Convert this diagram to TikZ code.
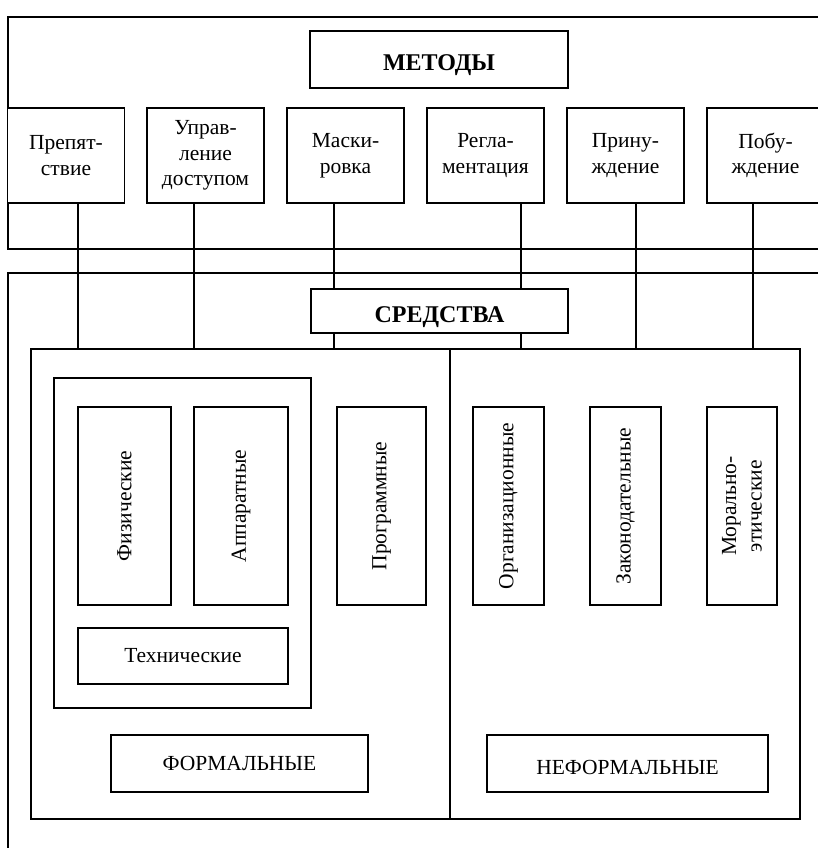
\documentclass[tikz,border=0pt]{standalone}
\usepackage{fontspec}
\setmainfont{Liberation Serif}

\begin{document}
\begin{tikzpicture}[x=1pt, y=-1pt,
    box/.style={draw, line width=1.6pt, fill=white, inner sep=0pt, align=center,
        font=\fontsize{21.5}{25.5}\selectfont},
    method/.style={box, minimum width=117, minimum height=95},
    title/.style={box, text height=23pt, text depth=0pt, font=\fontsize{24}{27}\selectfont\bfseries},
    upright/.style={box, rotate=90, minimum width=198},
    frame/.style={draw, line width=1.6pt},
    link/.style={draw, line width=1.3pt}]
    \useasboundingbox (0,0) rectangle (817,848);

    % Outer frames
    \draw[frame] (830,17) -- (8,17) -- (8,249) -- (830,249);
    \draw[frame] (830,273) -- (8,273) -- (8,860);

    % Inner frames
    \draw[frame] (31,349) rectangle (800,819);
    \draw[frame] (450,349) -- (450,819);
    \draw[frame] (54,378) rectangle (311,708);

    % Methods
    \node[title, minimum width=258, minimum height=57] (metody) at (439,59.5) {МЕТОДЫ};
    \node[method] (prep) at (66,155.5) {Препят-\\ствие};
    \node[method] (upr)  at (205.5,155.5) {Управ-\\ление\\доступом};
    \node[method] (mask) at (345.5,155.5) {Маски-\\ровка};
    \node[method] (regl) at (485.5,155.5) {Регла-\\ментация};
    \node[method] (prin) at (625.5,155.5) {Прину-\\ждение};
    \node[method] (pobu) at (765.5,155.5) {Побу-\\ждение};

    % Links down to the means
    \foreach \m/\x in {prep/78, upr/194, mask/334, regl/521, prin/636, pobu/753} {
        \coordinate (t-\m) at (\x,349);
        \draw[link] (\m.south -| t-\m) -- (t-\m);
    }

    % Means
    \node[title, minimum width=257, minimum height=44] (sredstva) at (439.5,311) {СРЕДСТВА};

    % Formal means
    \node[upright, minimum height=93] (fiz)  at (124.5,506) {Физические};
    \node[upright, minimum height=94] (appa) at (241,506) {Аппаратные};
    \node[upright, minimum height=89] (prog) at (381.5,506) {Программные};
    \node[box, minimum width=210, minimum height=56] (tech) at (183,656) {Технические};
    \node[box, minimum width=257, minimum height=57] (form) at (239.5,763.5) {ФОРМАЛЬНЫЕ};

    % Informal means
    \node[upright, minimum height=71] (org)  at (508.5,506) {Организационные};
    \node[upright, minimum height=71] (zak)  at (625.5,506) {Законодательные};
    \node[upright, minimum height=70] (mor)  at (742,506) {Морально-\\этические};
    \node[box, text height=22pt, text depth=0pt, minimum width=281, minimum height=57]
        (neform) at (627.5,763.5) {НЕФОРМАЛЬНЫЕ};
\end{tikzpicture}
\end{document}
